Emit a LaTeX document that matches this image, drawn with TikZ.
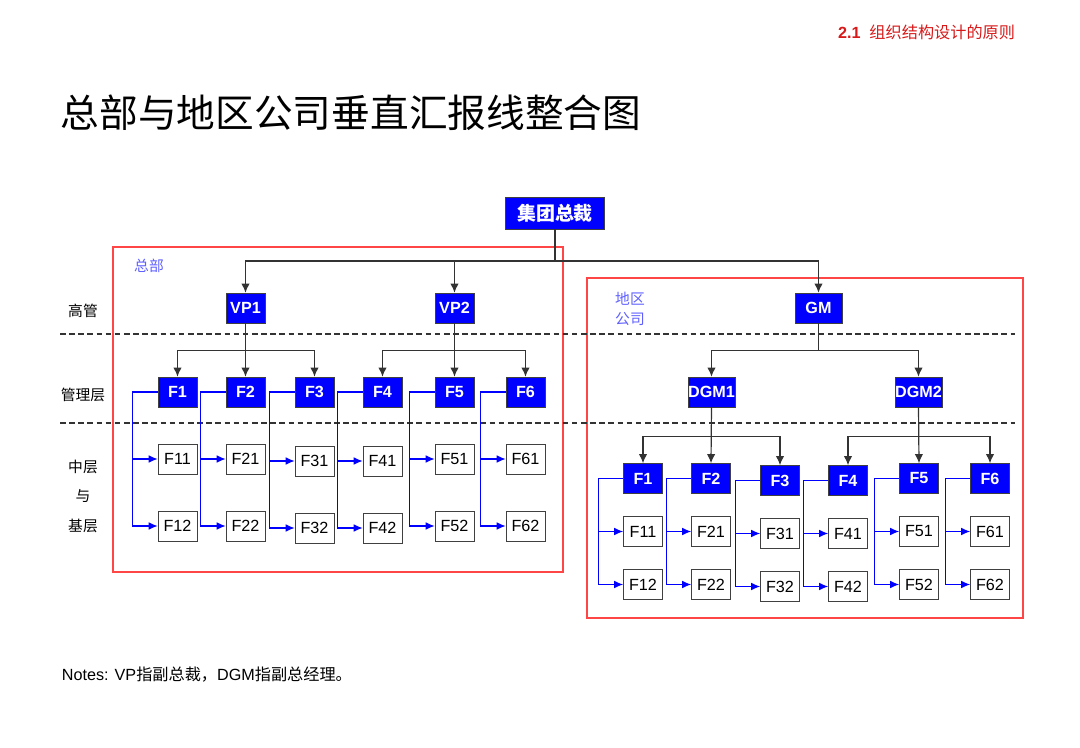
\documentclass[tikz,border=0pt]{standalone}
\usepackage{fontspec}
\setmainfont{Liberation Sans}
\newfontfamily\cjk{Noto Sans CJK SC}
\usetikzlibrary{arrows.meta}
\definecolor{OrgBlue}{RGB}{0, 0, 255}
\definecolor{FrameRed}{RGB}{255, 70, 70}
\definecolor{TagBlue}{RGB}{95, 95, 255}
\definecolor{HeadRed}{RGB}{215, 25, 25}

\begin{document}
\begin{tikzpicture}[x=0.025cm, y=-0.025cm,
          lead/.style={draw=black!75, fill=OrgBlue, text=white, inner sep=0pt,
                       minimum width=0.975cm, minimum height=0.75cm,
                       font=\bfseries\fontsize{11.5}{12}\selectfont},
          unit/.style={draw=black!75, fill=white, inner sep=0pt,
                       minimum width=0.975cm, minimum height=0.75cm,
                       font=\fontsize{11.5}{12}\selectfont},
          frame/.style={draw=FrameRed, line width=0.8pt},
          tier/.style={draw=black!80, dash pattern=on 4pt off 2.5pt, line width=0.75pt},
          arr/.style={-{Latex[length=6.5pt,width=6pt]}, draw=black!80, line width=0.85pt},
          barr/.style={-{Latex[length=6.5pt,width=5.5pt]}, draw=OrgBlue, line width=0.85pt},
          lvl/.style={font=\cjk\fontsize{10.5}{21}\selectfont, align=center},
          tag/.style={text=TagBlue, font=\cjk\fontsize{10.5}{14}\selectfont, align=center}
        ]
        \useasboundingbox (0,0) rectangle (1080,748);

        % heading and title
        \node[anchor=east, text=HeadRed] (chap) at (1020,32)
              {\fontsize{11.5}{12}\selectfont\bfseries 2.1\ \ \cjk\mdseries 组织结构设计的原则};
        \node[anchor=west, font=\cjk\fontsize{27.5}{30}\selectfont] (title) at (56,113)
              {总部与地区公司垂直汇报线整合图};

        % group frames and tier lines
        \draw[frame] (113,247) rectangle (563,572);
        \draw[frame] (587,278) rectangle (1023,618);
        \node[tag] (hqtag) at (149,266) {总部};
        \node[tag] (regtag) at (630,309) {地区\\公司};
        \draw[tier] (60,334) -- (1015,334);
        \draw[tier] (60,423) -- (1015,423);

        \node[lvl] (top-lvl) at (83,311) {高管};
        \node[lvl] (mid-lvl) at (83,395) {管理层};
        \node[lvl] (low-lvl) at (83,496) {中层\\与\\基层};

        % executives
        \node[lead, minimum width=2.475cm, minimum height=0.8cm,
              font=\cjk\bfseries\fontsize{13.5}{14}\selectfont] (ceo) at (555,213) {集团总裁};
        \node[lead] (vp1) at (245.5,308) {VP1};
        \node[lead] (vp2) at (454.5,308) {VP2};
        \node[lead, minimum width=1.175cm] (gm) at (818.5,308) {GM};
        \node[lead, minimum width=1.175cm] (dgm1) at (711.5,392) {DGM1};
        \node[lead, minimum width=1.175cm] (dgm2) at (918.5,392) {DGM2};

        \coordinate (hub) at (555,261);
        \draw[arr] (ceo.south) -- (hub) -| (vp1.north);
        \draw[arr] (hub) -| (vp2.north);
        \draw[arr] (hub) -| (gm.north);
        \draw[arr] (gm.south) -- ++(0,27) -| (dgm1.north);
        \draw[arr] (gm.south) -- ++(0,27) -| (dgm2.north);

        % headquarters functions
        \foreach \n/\x/\d in {1/177.5/0, 2/245.5/0, 3/314.5/2, 4/382.5/2, 5/454.5/0, 6/525.5/0} {
          \node[lead] (h\n) at (\x,392) {F\n};
          \node[unit] (h\n1) at (\x,459+\d) {F\n1};
          \node[unit] (h\n2) at (\x,526+\d) {F\n2};
          \draw[barr] (h\n.west) -- ++(-25,0) |- (h\n2.west);
          \draw[barr] (h\n1.west) ++(-25,0) -- (h\n1.west);
        }
        \foreach \v/\a/\b/\c in {vp1/h1/h2/h3, vp2/h4/h5/h6} {
          \draw[arr] (\v.south) -- ++(0,27) -| (\a.north);
          \draw[arr] (\v.south) -- (\b.north);
          \draw[arr] (\v.south) -- ++(0,27) -| (\c.north);
        }

        % regional functions
        \foreach \n/\x/\d in {1/643/0, 2/711/0, 3/780/2, 4/848/2, 5/919/0, 6/990/0} {
          \node[lead] (r\n) at (\x,478.5+\d) {F\n};
          \node[unit] (r\n1) at (\x,531.5+\d) {F\n1};
          \node[unit] (r\n2) at (\x,584.5+\d) {F\n2};
          \draw[barr] (r\n.west) -- ++(-25,0) |- (r\n2.west);
          \draw[barr] (r\n1.west) ++(-25,0) -- (r\n1.west);
        }
        \foreach \v/\a/\b/\c in {dgm1/r1/r2/r3, dgm2/r4/r5/r6} {
          \draw[arr] (\v.south) -- ++(0,29) -| (\a.north);
          \draw[arr] (\v.south) -- (\b.north);
          \draw[arr] (\v.south) -- ++(0,29) -| (\c.north);
        }

        \node[anchor=west, font=\fontsize{11.5}{13}\selectfont] (notes) at (57,675)
              {Notes: VP{\cjk 指副总裁，}DGM{\cjk 指副总经理。}};
      \end{tikzpicture}
\end{document}
